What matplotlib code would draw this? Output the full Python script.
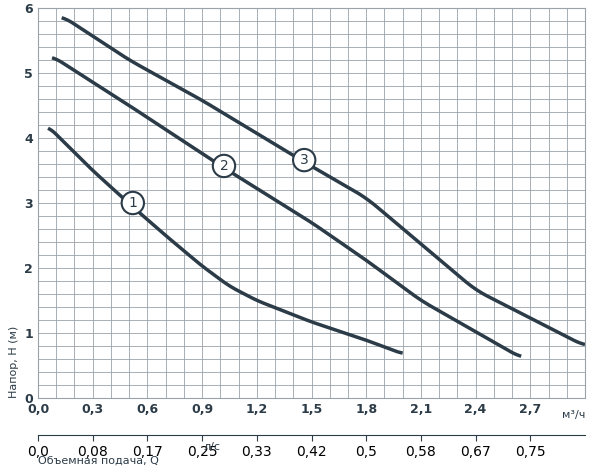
import matplotlib
matplotlib.use("Agg")
import matplotlib.pyplot as plt
import numpy as np

q1 = [0.055, 0.3, 0.52, 0.7, 0.9, 1.05, 1.2, 1.5, 1.8, 2.0]
h1 = [4.18, 3.5, 2.94, 2.5, 2.03, 1.72, 1.5, 1.17, 0.89, 0.68]
q2 = [0.077, 0.5, 1.02, 1.5, 1.8, 2.1, 2.65]
h2 = [5.26, 4.5, 3.54, 2.7, 2.12, 1.5, 0.62]
q3 = [0.13, 0.5, 0.9, 1.46, 1.8, 2.4, 3.0]
h3 = [5.88, 5.2, 4.58, 3.63, 3.08, 1.66, 0.8]
labels = [("1", 0.52, 3.0), ("2", 1.02, 3.57), ("3", 1.46, 3.66)]
xt_m3h = [0.0, 0.3, 0.6, 0.9, 1.2, 1.5, 1.8, 2.1, 2.4, 2.7]
xt_ls = ["0,0", "0,08", "0,17", "0,25", "0,33", "0,42", "0,5", "0,58", "0,67", "0,75"]

col = "#2b3b47"
fig = plt.figure(figsize=(6, 4.7), dpi=100)
ax = fig.add_axes([38/600, 72/470, 547/600, 390/470])
for q, h in [(q1, h1), (q2, h2), (q3, h3)]:
    qq = np.linspace(q[0], q[-1], 200)
    hh = np.interp(qq, q, h)
    k = np.ones(9)/9
    hs = np.convolve(np.pad(hh, 4, mode="edge"), k, mode="valid")
    ax.plot(qq, hs, color=col, lw=2.5, solid_capstyle="butt")
for t, x, y in labels:
    ax.text(x, y, t, ha="center", va="center", fontsize=10, color=col,
            bbox=dict(boxstyle="circle,pad=0.3", fc="white", ec=col, lw=1.5))
ax.set_xlim(0, 3.0)
ax.set_ylim(0, 6)
ax.set_xticks(xt_m3h)
ax.set_xticklabels([f"{v:.1f}".replace(".", ",") for v in xt_m3h], fontsize=9, fontweight="bold", color=col)
ax.set_yticks(range(7))
ax.set_yticklabels([str(i) for i in range(7)], fontsize=9, fontweight="bold", color=col)
ax.set_xticks(np.arange(0, 3.01, 0.1), minor=True)
ax.set_yticks(np.arange(0, 6.01, 0.2), minor=True)
ax.grid(which="both", color="#9aa3aa", lw=0.6)
ax.tick_params(which="both", length=0)
for s in ax.spines.values():
    s.set_color("#9aa3aa")
ax.set_axisbelow(True)
ax.text(1.0, -0.03, "м³/ч", transform=ax.transAxes, ha="right", va="top", fontsize=8, color=col)
ax.set_ylabel("Напор, H (м)", fontsize=8, color=col, loc="bottom")

ax2 = fig.add_axes([38/600, 35/470, 547/600, 0.001])
ax2.set_xlim(0, 3.0)
ax2.set_yticks([])
ax2.set_xticks(xt_m3h)
ax2.set_xticklabels(xt_ls, fontsize=8, color=col)
ax2.tick_params(length=4, color=col)
for k in ["top", "left", "right"]:
    ax2.spines[k].set_visible(False)
ax2.spines["bottom"].set_color(col)
ax2.spines["bottom"].set_position(("outward", 0))
ax2.text(1.0, -14, "л/с", transform=ax2.get_xaxis_transform(), ha="right", va="top", fontsize=8, color=col)
fig.text(38/600, 4/470, "Объемная подача, Q", fontsize=8, color=col, va="bottom")
fig.savefig("out.png")
